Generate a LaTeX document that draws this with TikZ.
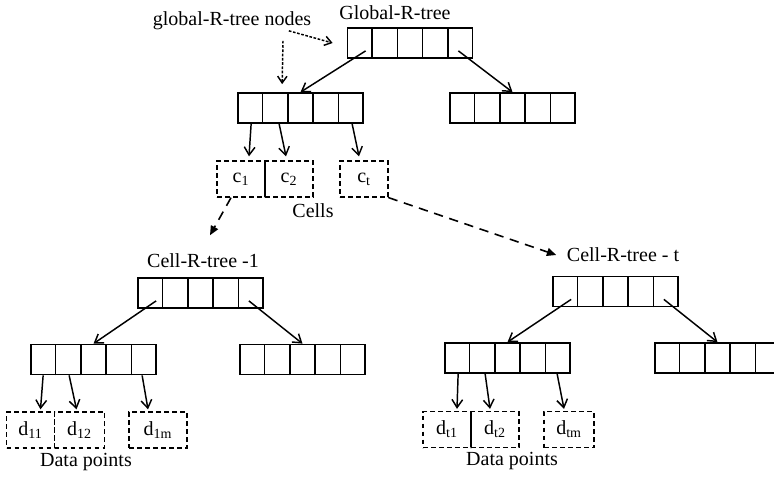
\documentclass[tikz,border=0pt]{standalone}
\usepackage{fontspec}
\setmainfont{Liberation Serif}
\usetikzlibrary{arrows.meta,calc}

\tikzset{
	rnode/.style={draw, line width=1.3pt, minimum width=93.75pt, minimum height=22.5pt, inner sep=0pt},
	cellbox/.style={draw, line width=1pt, dash pattern=on 3.5pt off 2.5pt, minimum width=36pt, minimum height=27pt, inner sep=0pt, font=\fontsize{15}{18}\selectfont},
	lbl/.style={font=\fontsize{15}{18}\selectfont},
	ptr/.style={line width=1.1pt, -{Straight Barb[length=6pt,width=8pt,line width=1.1pt]}},
	link/.style={line width=1.2pt, dash pattern=on 7pt off 5pt, -{Triangle[length=7pt,width=6pt]}},
	hint/.style={line width=1.1pt, dash pattern=on 2pt off 1.2pt, -{Straight Barb[length=5pt,width=7pt]}},
}

% R-tree node: one box split into five entries
\newcommand{\rtnode}[2]{%
	\node[rnode] (#1) at (#2) {};
	\foreach \k in {1,...,4}
		\draw[line width=1.2pt] ($(#1.south west)!\k/5!(#1.south east)$) -- ($(#1.north west)!\k/5!(#1.north east)$);
}

\begin{document}
\begin{tikzpicture}[x=0.75pt, y=-0.75pt]
	\useasboundingbox (0, 0) rectangle (774, 476);
	\clip (0, 0) rectangle (774, 476);

	% global tree
	\node[lbl] (gnodes) at (232, 21) {global-R-tree nodes};
	\node[lbl] (gtitle) at (395, 13) {Global-R-tree};
	\rtnode{groot}{410, 43}
	\rtnode{gleft}{300.5, 108}
	\rtnode{gright}{512.5, 108}
	\draw[ptr] ($(groot.south west)+(19, -8)$) -- (gleft.north);
	\draw[ptr] ($(groot.south east)+(-15, -8)$) -- (gright.north);
	\draw[hint] ($(gnodes.south east)+(-27, -4)$) -- ($(groot.west)+(-14, 0)$);
	\draw[hint] ($(gnodes.south)+(51, 6)$) -- ($(gleft.north west)+(45, -8)$);

	% cells
	\node[cellbox] (c1) at (241, 179) {c\textsubscript{1}};
	\node[cellbox] (c2) at (289, 179) {c\textsubscript{2}};
	\node[cellbox] (ct) at (364, 179) {c\textsubscript{t}};
	\node[lbl] (cells) at (313, 211) {Cells};
	\draw[ptr] ($(gleft.south west)+(14, 0)$) -- ($(c1.north)+(8, -4)$);
	\draw[ptr] ($(gleft.south west)+(42, 0)$) -- ($(c2.north)+(-3, -4)$);
	\draw[ptr] ($(gleft.south west)+(115, 0)$) -- ($(ct.north)+(-5, -4)$);

	% cell tree 1
	\node[lbl] (atitle) at (203, 261) {Cell-R-tree -1};
	\rtnode{aroot}{200.5, 293}
	\rtnode{aleft}{93.5, 359.5}
	\rtnode{aright}{302.5, 359.5}
	\draw[ptr] ($(aroot.south west)+(19, -8)$) -- (aleft.north);
	\draw[ptr] ($(aroot.south east)+(-15, -8)$) -- (aright.north);
	\node[cellbox] (d11) at (30.5, 430) {d\textsubscript{11}};
	\node[cellbox, minimum width=37.5pt] (d12) at (79.5, 430) {d\textsubscript{12}};
	\node[cellbox, minimum width=43.5pt] (d1m) at (158, 430) {d\textsubscript{1m}};
	\node[lbl] (apts) at (86, 462) {Data points};
	\draw[ptr] ($(aleft.south west)+(13, 0)$) -- ($(d11.north)+(10, -2)$);
	\draw[ptr] ($(aleft.south west)+(39, 0)$) -- ($(d12.north)+(-3, -2)$);
	\draw[ptr] ($(aleft.south west)+(112, 0)$) -- ($(d1m.north)+(-10, -2)$);

	% cell tree t
	\node[lbl] (btitle) at (623, 255) {Cell-R-tree - t};
	\rtnode{broot}{615.5, 291.5}
	\rtnode{bleft}{507.5, 358}
	\rtnode{bright}{717.5, 358}
	\draw[ptr] ($(broot.south west)+(19, -8)$) -- (bleft.north);
	\draw[ptr] ($(broot.south east)+(-15, -8)$) -- (bright.north);
	\node[cellbox] (dt1) at (447, 429.5) {d\textsubscript{t1}};
	\node[cellbox] (dt2) at (495, 429.5) {d\textsubscript{t2}};
	\node[cellbox, minimum width=37.5pt] (dtm) at (569, 429.5) {d\textsubscript{tm}};
	\node[lbl] (bpts) at (512, 461) {Data points};
	\draw[ptr] ($(bleft.south west)+(14, 0)$) -- ($(dt1.north)+(10, -2)$);
	\draw[ptr] ($(bleft.south west)+(41, 0)$) -- ($(dt2.north)+(-5, -2)$);
	\draw[ptr] ($(bleft.south west)+(113, 0)$) -- ($(dtm.north)+(-5, -2)$);

	% cells point to their own trees
	\draw[link] ($(c1.south)+(-10, 0)$) -- ($(atitle.north)+(7, -14)$);
	\draw[link] (ct.south east) -- ($(btitle.west)+(-6, 0)$);
\end{tikzpicture}
\end{document}
